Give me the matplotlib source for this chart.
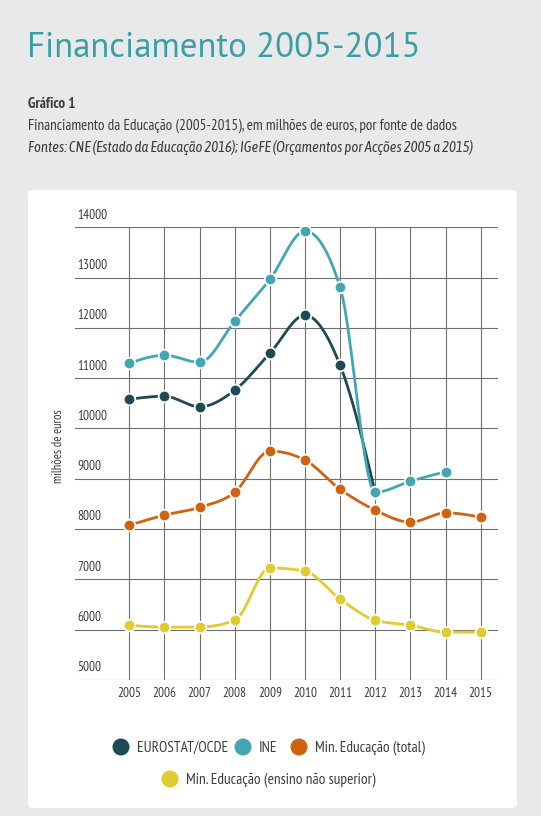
import numpy as np
import matplotlib
matplotlib.use("Agg")
import matplotlib.pyplot as plt
from matplotlib.patches import FancyBboxPatch

# ---------------- data ----------------
years = [2005, 2006, 2007, 2008, 2009, 2010, 2011, 2012, 2013, 2014, 2015]
eurostat_years = [2005, 2006, 2007, 2008, 2009, 2010, 2011, 2012]
eurostat = [10580, 10640, 10430, 10760, 11495, 12250, 11255, 8720]
ine_years = [2005, 2006, 2007, 2008, 2009, 2010, 2011, 2012, 2013, 2014]
ine = [11295, 11455, 11315, 12130, 12965, 13925, 12805, 8730, 8950, 9140]
me_total = [8075, 8275, 8430, 8730, 9550, 9370, 8790, 8375, 8135, 8320, 8235]
me_nsup = [6085, 6048, 6048, 6185, 7225, 7160, 6605, 6185, 6085, 5948, 5948]
y_ticks = [5000, 6000, 7000, 8000, 9000, 10000, 11000, 12000, 13000, 14000]
series_names = ["EUROSTAT/OCDE", "INE", "Min. Educação (total)",
                "Min. Educação (ensino não superior)"]

C_EURO = "#1e4a53"
C_INE = "#43a7b3"
C_ME = "#d3620f"
C_NS = "#e0cc2d"
C_TITLE = "#3b9ea7"
C_BG = "#e8e9e9"
C_TEXT = "#3c3c3c"

NARROW = ["PT Sans Narrow", "Asap Condensed", "DejaVu Sans"]
NARROW_IT = ["Asap Condensed", "PT Sans Narrow", "DejaVu Sans"]
TITLEF = ["PT Sans", "Lato", "DejaVu Sans"]


def monotone_curve(xs, ys, n=40):
    """d3.curveMonotoneX style drawing path through the given points."""
    xs = np.asarray(xs, float)
    ys = np.asarray(ys, float)
    m = len(xs)
    h = np.diff(xs)
    s = np.diff(ys) / h
    t = np.zeros(m)
    for i in range(1, m - 1):
        s0, s1 = s[i - 1], s[i]
        p = (s0 * h[i] + s1 * h[i - 1]) / (h[i - 1] + h[i])
        t[i] = (np.sign(s0) + np.sign(s1)) * min(abs(s0), abs(s1), 0.5 * abs(p))
    t[0] = (3 * s[0] - t[1]) / 2 if m > 2 else s[0]
    t[-1] = (3 * s[-1] - t[-2]) / 2 if m > 2 else s[-1]
    px, py = [], []
    for i in range(m - 1):
        u = np.linspace(0, 1, n)
        h00 = 2 * u**3 - 3 * u**2 + 1
        h10 = u**3 - 2 * u**2 + u
        h01 = -2 * u**3 + 3 * u**2
        h11 = u**3 - u**2
        yy = h00 * ys[i] + h10 * h[i] * t[i] + h01 * ys[i + 1] + h11 * h[i] * t[i + 1]
        xx = xs[i] + u * h[i]
        px.extend(xx)
        py.extend(yy)
    return np.array(px), np.array(py)


W, H = 541, 816
fig = plt.figure(figsize=(W / 100, H / 100), dpi=100)
fig.patch.set_facecolor(C_BG)

# background overlay in pixel coordinates
bg = fig.add_axes([0, 0, 1, 1], zorder=0)
bg.set_xlim(0, W)
bg.set_ylim(H, 0)
bg.axis("off")
bg.add_patch(FancyBboxPatch((28, 190), 489, 618,
                            boxstyle="round,pad=0,rounding_size=5",
                            fc="white", ec="none"))

bg.text(27, 57, "Financiamento 2005-2015", fontsize=25, color=C_TITLE,
        family=TITLEF, va="baseline", ha="left")
bg.text(28, 108, "Gráfico 1", fontsize=10.8, color=C_TEXT, weight="bold",
        family=NARROW, va="baseline")
bg.text(28, 130, "Financiamento da Educação (2005-2015), em milhões de euros, por fonte de dados",
        fontsize=10.9, color=C_TEXT, family=NARROW, va="baseline")
bg.text(28, 152, "Fontes: CNE (Estado da Educação 2016); IGeFE (Orçamentos por Acções 2005 a 2015)",
        fontsize=10.6, color=C_TEXT, family=NARROW_IT, style="italic", va="baseline")

# y axis title
bg.text(58, 446, "milhões de euros", rotation=90, fontsize=9, color=C_TEXT,
        family=NARROW, ha="center", va="center")

# legend
leg_items = [
    (121, 747, C_EURO, series_names[0]),
    (243, 747, C_INE, series_names[1]),
    (299, 747, C_ME, series_names[2]),
    (170, 779, C_NS, series_names[3]),
]
for lx, ly, col, name in leg_items:
    bg.scatter([lx], [ly], s=150, color=col, edgecolors="none", zorder=3)
    bg.text(lx + 16, ly + 1, name, fontsize=11, color=C_TEXT, family=NARROW,
            va="center", ha="left")

# ---------------- chart ----------------
L, R, T, B = 75, 498, 227.3, 679.8
ax = fig.add_axes([L / W, 1 - B / H, (R - L) / W, (B - T) / H], zorder=2)
ax.patch.set_alpha(0)
ax.set_ylim(5000, 14000)
x0 = 2005 - (129.3 - L) / 35.14
x1 = 2015 + (R - 480.7) / 35.14
ax.set_xlim(x0, x1)
for sp in ax.spines.values():
    sp.set_visible(False)
ax.set_xticks([])
ax.set_yticks([])

grid_kw = dict(color="#6f6f6f", lw=0.8, zorder=1)
for yv in y_ticks:
    ax.plot([x0, x1], [yv, yv], **grid_kw)
    ax.text(x0 + 0.06, yv + 170, f"{yv}", fontsize=9.6, color=C_TEXT,
            family=NARROW, ha="left", va="baseline")
for xv in years:
    ax.plot([xv, xv], [5000, 14000], **grid_kw)
    ax.text(xv, 4730, f"{xv}", fontsize=9.6, color=C_TEXT, family=NARROW,
            ha="center", va="center", clip_on=False)

for xs, ys, col, z in [
    (years, me_nsup, C_NS, 3),
    (years, me_total, C_ME, 4),
    (eurostat_years, eurostat, C_EURO, 5),
    (ine_years, ine, C_INE, 6),
]:
    cx, cy = monotone_curve(xs, ys)
    ax.plot(cx, cy, color=col, lw=2.0, zorder=z, solid_capstyle="round")
    ax.scatter(xs, ys, s=70, color=col, edgecolors="white", linewidths=1.3,
               zorder=z + 0.5)

fig.savefig("out.png", dpi=100, facecolor=C_BG)
